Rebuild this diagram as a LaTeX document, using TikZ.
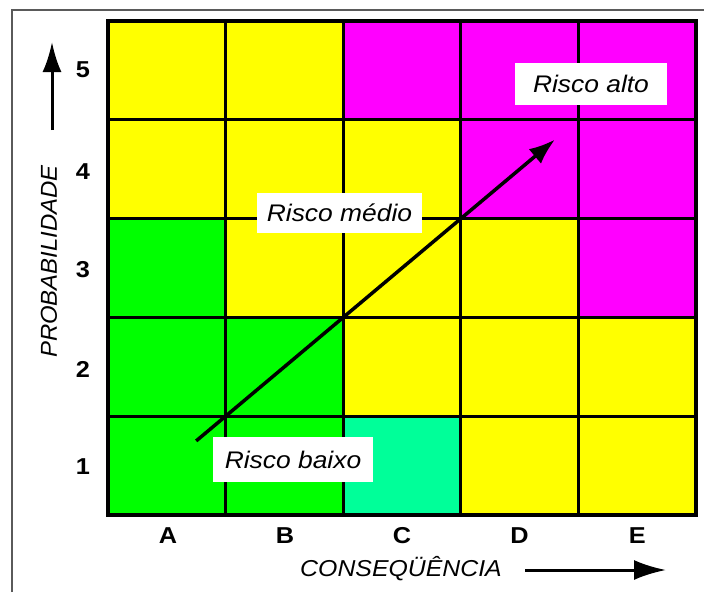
\documentclass[tikz,border=0pt]{standalone}
\usepackage{fontspec}
\setmainfont{Liberation Sans}
\usetikzlibrary{arrows.meta}
\definecolor{ylw}{RGB}{255,255,0}
\definecolor{mag}{RGB}{255,0,255}
\definecolor{grn}{RGB}{0,255,0}
\definecolor{mint}{RGB}{0,255,153}
\definecolor{framegray}{RGB}{90,90,90}
\tikzset{
  risklabel/.style={fill=white, inner sep=0pt, font=\fontsize{24}{28}\selectfont\itshape},
  axislabel/.style={inner sep=0pt, font=\fontsize{23}{27}\selectfont\itshape},
  ticklabel/.style={inner sep=0pt, font=\fontsize{23}{27}\selectfont\bfseries},
  bigarrow/.style={line width=3.5pt, -{Latex[length=28pt,width=20pt]}},
}
\begin{document}
\begin{tikzpicture}[x=1pt,y=-1pt]
\useasboundingbox (0,0) rectangle (704,592);
\fill[white] (0,0) rectangle (704,592);
\draw[framegray, line width=2pt] (12,592) -- (12,10) -- (704,10);
% cells
\foreach \i/\j/\col in {
  0/5/ylw,1/5/ylw,2/5/mag,3/5/mag,4/5/mag,
  0/4/ylw,1/4/ylw,2/4/ylw,3/4/mag,4/4/mag,
  0/3/grn,1/3/ylw,2/3/ylw,3/3/ylw,4/3/mag,
  0/2/grn,1/2/grn,2/2/ylw,3/2/ylw,4/2/ylw,
  0/1/grn,1/1/grn,2/1/mint,3/1/ylw,4/1/ylw}
  \fill[\col] ({108+117.6*\i},{515-98.8*\j}) rectangle +(117.6,98.8);
% grid lines
\foreach \i in {1,...,4}
  \draw[line width=3pt] ({108+117.6*\i},21) -- ++(0,494);
\foreach \j in {1,...,4}
  \draw[line width=3pt] (108,{515-98.8*\j}) -- ++(588,0);
\draw[line width=4.5pt] (108,21) rectangle (696,515);
% diagonal arrow
\coordinate (dstart) at (196.2,440.9);
\coordinate (dend) at (554.9,139.6);
\draw[line width=3.5pt, -{Latex[length=26pt,width=19pt]}] (dstart) -- (dend);
% risk labels
\node[risklabel, minimum width=160pt, minimum height=45pt] (baixo) at (293,459.5) {\scalebox{1.1}[1]{Risco baixo}};
\node[risklabel, minimum width=165pt, minimum height=40pt] (medio) at (339.5,213) {\scalebox{1.1}[1]{Risco médio}};
\node[risklabel, minimum width=152pt, minimum height=42pt] (alto) at (591,84) {\scalebox{1.1}[1]{Risco alto}};
% tick labels
\foreach \n/\y in {5/70,4/172,3/270,2/369.5,1/467}
  \node[ticklabel] (r\n) at (83,\y) {\scalebox{1.1}[1]{\n}};
\foreach \n/\x in {A/168,B/285,C/402,D/519.6,E/637.2}
  \node[ticklabel] (c\n) at (\x,535.5) {\scalebox{1.1}[1]{\n}};
% axis labels
\node[axislabel, rotate=90] (prob) at (49,261.5) {\scalebox{1.04}[1]{PROBABILIDADE}};
\node[axislabel] (cons) at (401,569) {\scalebox{1.08}[1]{CONSEQÜÊNCIA}};
% axis arrows
\coordinate (pbot) at (52,130);
\coordinate (ptop) at (52,42);
\draw[line width=3pt, -{Latex[length=30pt,width=19pt]}] (pbot) -- (ptop);
\coordinate (cleft) at (525,570);
\coordinate (cright) at (666,570);
\draw[line width=3pt, -{Latex[length=32pt,width=20pt]}] (cleft) -- (cright);
\end{tikzpicture}
\end{document}
